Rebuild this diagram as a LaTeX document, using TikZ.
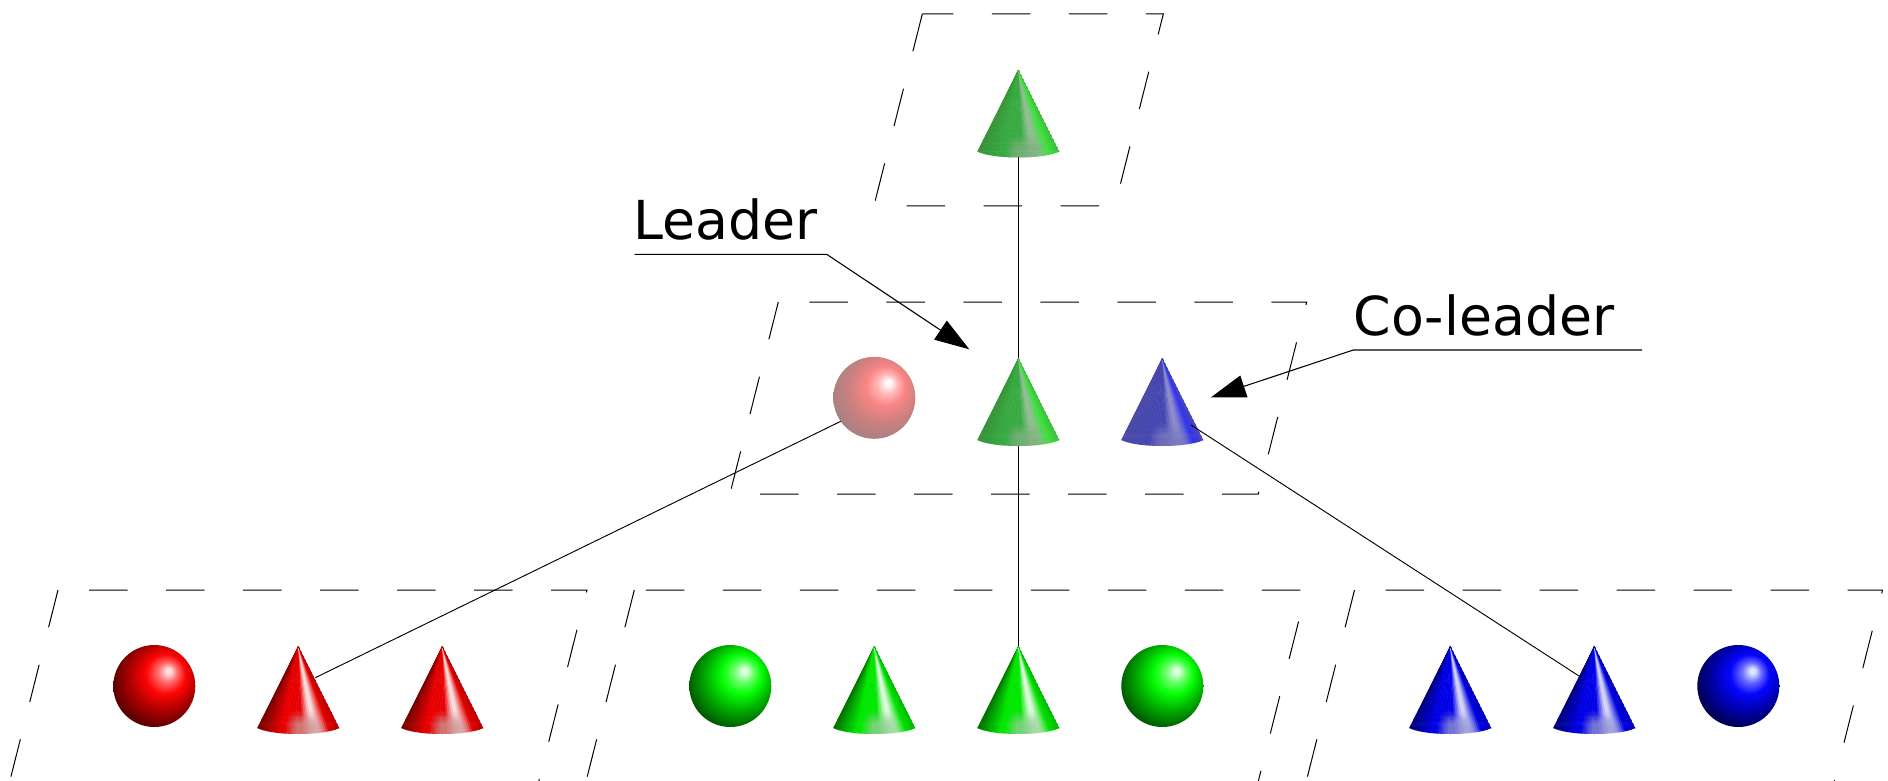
\documentclass[tikz,border=0pt]{standalone}
\usepackage{fontspec}
\setmainfont{DejaVu Sans}
\usetikzlibrary{arrows.meta,calc}
% cone palettes: L left, M middle, H highlight, R right part, E edge, P base patch
\definecolor{redL}{RGB}{110,0,0}\definecolor{redM}{RGB}{232,0,0}\definecolor{redH}{RGB}{250,222,222}
\definecolor{redR}{RGB}{225,0,0}\definecolor{redE}{RGB}{185,0,0}\definecolor{redP}{RGB}{205,145,145}
\definecolor{grnL}{RGB}{0,105,0}\definecolor{grnM}{RGB}{0,232,0}\definecolor{grnH}{RGB}{222,250,222}
\definecolor{grnR}{RGB}{0,225,0}\definecolor{grnE}{RGB}{0,185,0}\definecolor{grnP}{RGB}{145,205,145}
\definecolor{bluL}{RGB}{0,0,115}\definecolor{bluM}{RGB}{0,0,232}\definecolor{bluH}{RGB}{212,212,250}
\definecolor{bluR}{RGB}{0,0,225}\definecolor{bluE}{RGB}{0,0,185}\definecolor{bluP}{RGB}{145,145,210}
\definecolor{wgrL}{RGB}{55,145,55}\definecolor{wgrM}{RGB}{55,170,65}\definecolor{wgrH}{RGB}{145,190,145}
\definecolor{wgrR}{RGB}{60,225,60}\definecolor{wgrE}{RGB}{60,190,60}\definecolor{wgrP}{RGB}{125,175,125}
\definecolor{wblL}{RGB}{75,75,165}\definecolor{wblM}{RGB}{70,70,178}\definecolor{wblH}{RGB}{140,140,205}
\definecolor{wblR}{RGB}{50,50,235}\definecolor{wblE}{RGB}{70,70,190}\definecolor{wblP}{RGB}{118,118,188}
% sphere shadings
\newcommand\mkball[6]{\pgfdeclareradialshading{#1}{\pgfpoint{9bp}{9.5bp}}{%
  rgb(0bp)=(#2);rgb(1.5bp)=(#2);rgb(6bp)=(#3);rgb(12bp)=(#4);rgb(21bp)=(#5);rgb(31bp)=(#6);rgb(50bp)=(#6)}}
\mkball{redball}{1,.87,.87}{1,.42,.42}{1,.02,.02}{.66,0,0}{.3,0,0}
\mkball{grnball}{.87,1,.87}{.42,1,.42}{.02,1,.02}{0,.66,0}{0,.3,0}
\mkball{bluball}{.87,.9,1}{.42,.42,1}{.02,.02,1}{0,0,.66}{0,0,.26}
\mkball{pnkball}{1,.98,.98}{1,.72,.72}{.98,.52,.52}{.8,.5,.5}{.64,.5,.5}
\newcommand\setcc[2]{%
  \pgfmathsetmacro\uu{#1}%
  \ifdim\uu pt<.3pt \pgfmathsetmacro\tmix{100*\uu/.3}\colorlet{cc}{#2M!\tmix!#2L}%
  \else\ifdim\uu pt<.54pt \colorlet{cc}{#2M}%
  \else\ifdim\uu pt<.67pt \pgfmathsetmacro\tmix{100*(\uu-.54)/.13}\colorlet{cc}{#2H!\tmix!#2M}%
  \else\ifdim\uu pt<.72pt \colorlet{cc}{#2H}%
  \else\ifdim\uu pt<.87pt \pgfmathsetmacro\tmix{100*(\uu-.72)/.15}\colorlet{cc}{#2R!\tmix!#2H}%
  \else \pgfmathsetmacro\tmix{100*(\uu-.87)/.13}\colorlet{cc}{#2E!\tmix!#2R}%
  \fi\fi\fi\fi\fi}
\newcommand\patchweight[1]{%
  \pgfmathsetmacro\uu{#1}%
  \ifdim\uu pt<.34pt \def\fu{0}%
  \else\ifdim\uu pt<.48pt \pgfmathsetmacro\fu{(\uu-.34)/.14}%
  \else\ifdim\uu pt<.7pt \def\fu{1}%
  \else\ifdim\uu pt<.86pt \pgfmathsetmacro\fu{(.86-\uu)/.16}%
  \else \def\fu{0}\fi\fi\fi\fi}
% name, x, apex y, palette
\newcommand\conebody[4]{%
  \node[conebox] (#1) at (#2,{#3+44}) {};
  \begin{scope}[shift={(#2,#3)}]
    \clip (0,0) -- (-41,82) .. controls (-25,90) and (25,90) .. (41,82) -- cycle;
    \foreach \i in {0,...,35} {
      \pgfmathsetmacro\ua{\i/36}
      \pgfmathsetmacro\ub{(\i+1)/36}
      \pgfmathsetmacro\um{(\i+.5)/36}
      \setcc{\um}{#4}
      \filldraw[fill=cc,draw=cc,line width=.3pt] (0,0) -- ({(2*\ua-1)*41*.78},{82*.78}) -- ({(2*\ub-1)*41*.78},{82*.78}) -- cycle;
      \patchweight{\um}
      \foreach \va/\vb/\fv in {.78/.81/.05,.81/.84/.15,.84/.87/.3,.87/.9/.48,.9/.93/.62,.93/.96/.72,.96/1/.78,1/1.12/.78} {
        \pgfmathsetmacro\wmix{100*\fu*\fv}
        \colorlet{dd}{#4P!\wmix!cc}
        \filldraw[fill=dd,draw=dd,line width=.3pt]
          ({(2*\ua-1)*41*\va},{82*\va}) -- ({(2*\ub-1)*41*\va},{82*\va}) --
          ({(2*\ub-1)*41*\vb},{82*\vb}) -- ({(2*\ua-1)*41*\vb},{82*\vb}) -- cycle;
      }
    }
  \end{scope}}
% name, x, y, shading
\newcommand\ballbody[4]{%
  \shade[shading=#4] (#2,#3) circle [radius=41];
  \node[ballbox] (#1) at (#2,#3) {};}
% x, y, width, height, phase in pt
\newcommand\groupframe[5]{%
  \pgfmathsetmacro\xd{.2522*#4}
  \draw[frameline,dash phase=#5pt] (#1,#2) -- ({#1+#3},#2) -- ({#1+#3-\xd},{#2+#4}) -- ({#1-\xd},{#2+#4});
  \draw[frameline] (#1,#2) -- ({#1-\xd},{#2+#4});}
\tikzset{
  conebox/.style={inner sep=0pt,outer sep=0pt,minimum width=61.5pt,minimum height=66pt},
  ballbox/.style={circle,inner sep=0pt,outer sep=0pt,minimum size=61.5pt},
  frameline/.style={black,line width=.75pt,dash pattern=on 28.875pt off 28.875pt},
  linkline/.style={black,line width=.7pt},
  calloutline/.style={black,line width=.8pt,-{Triangle[length=26pt,width=17pt]}},
  labeltext/.style={inner sep=0pt,outer sep=0pt,anchor=base west,font=\fontsize{40.3}{48}\selectfont}
}
\begin{document}
\begin{tikzpicture}[x=.75pt,y=-.75pt]
\useasboundingbox (0,0) rectangle (1888,781);
\clip (0,0) rectangle (1888,781);
\fill[white] (0,0) rectangle (1888,781);
% dashed group frames
\groupframe{922.3}{14}{241}{191.8}{5.625}
\groupframe{778.3}{302}{528.4}{192}{34.5}
\groupframe{58}{590}{529}{192}{34.5}
\groupframe{634.3}{590}{672.2}{192}{49}
\groupframe{1354.5}{590}{528}{192}{34.5}
% objects
\conebody{topcone}{1018.4}{69.5}{wgr}
\ballbody{pinkball}{874.3}{397.8}{pnkball}
\conebody{leadcone}{1018.4}{358}{wgr}
\conebody{colcone}{1162.3}{358}{wbl}
\ballbody{redballa}{154.3}{686}{redball}
\conebody{redconea}{298.3}{646}{red}
\conebody{redconeb}{442.3}{646}{red}
\ballbody{grnballa}{730.3}{686}{grnball}
\conebody{grnconea}{874.3}{646}{grn}
\conebody{grnconeb}{1018.4}{646}{grn}
\ballbody{grnballb}{1162.3}{686}{grnball}
\conebody{bluconea}{1450.3}{646}{blu}
\conebody{bluconeb}{1594.3}{646}{blu}
\ballbody{bluballa}{1738.3}{686}{bluball}
% links between objects
\coordinate (redport) at ($(redconea.north)+(17,31.7)$);
\coordinate (colport) at ($(colcone.north)+(28.7,67)$);
\coordinate (bluport) at ($(bluconeb.north)+(-15.3,30)$);
\draw[linkline] (topcone.south) -- (leadcone.north);
\draw[linkline] (leadcone.south) -- (grnconeb.north);
\draw[linkline] (pinkball.215) -- (redport);
\draw[linkline] (colport) -- (bluport);
% labels and callouts
\node[labeltext] (leaderlabel) at (633,239) {Leader};
\node[labeltext] (colabel) at (1353.5,335) {Co-leader};
\coordinate (leadstart) at (634.5,254.3);
\coordinate (leadbend) at (826.7,254.3);
\coordinate (leadtip) at (969.3,349.3);
\coordinate (colstart) at (1642,350);
\coordinate (colbend) at (1353.3,350);
\coordinate (coltip) at (1211,397.3);
\draw[calloutline] (leadstart) -- (leadbend) -- (leadtip);
\draw[calloutline] (colstart) -- (colbend) -- (coltip);
\end{tikzpicture}
\end{document}
